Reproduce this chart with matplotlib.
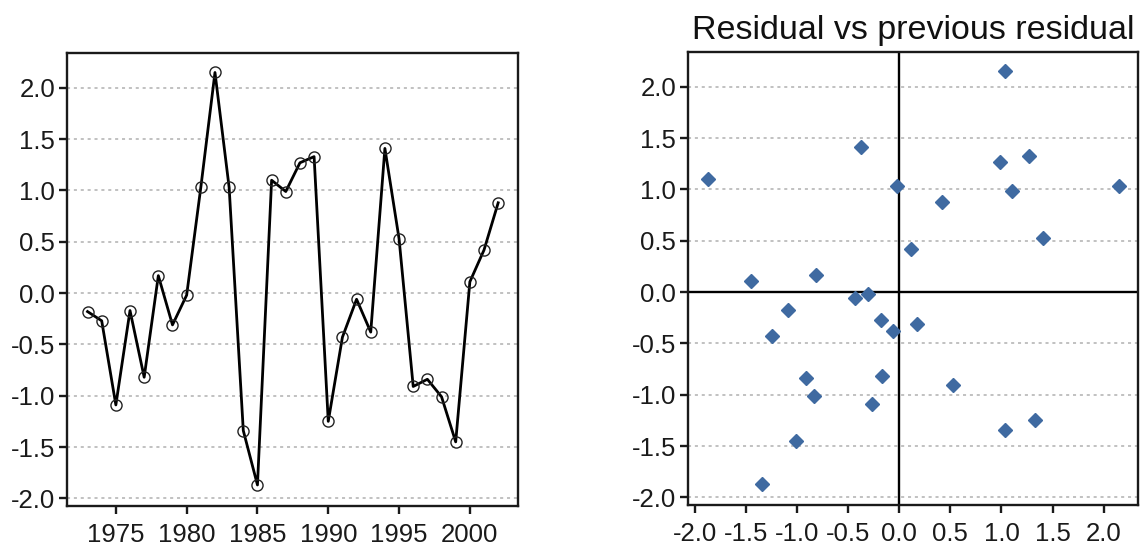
import matplotlib.pyplot as plt
import numpy as np

plt.rcParams['font.family'] = ['Liberation Sans', 'DejaVu Sans']

years = list(range(1973, 2003))
resid = [-0.18, -0.27, -1.09, -0.17, -0.82, 0.17, -0.31, -0.02, 1.03, 2.15,
         1.03, -1.34, -1.87, 1.10, 0.99, 1.27, 1.33, -1.25, -0.43, -0.06,
         -0.38, 1.41, 0.53, -0.91, -0.84, -1.01, -1.45, 0.11, 0.42, 0.88]
title_right = "Residual vs previous residual"

# scatter: residual against the one before it
prev_resid = resid[:-1]
cur_resid = resid[1:]

W, H = 1141, 547
fig = plt.figure(figsize=(W / 100, H / 100), dpi=100)

def box(x0, y0, x1, y1):
    return [x0 / W, 1 - y1 / H, (x1 - x0) / W, (y1 - y0) / H]

ax1 = fig.add_axes(box(67, 53, 518, 506))
ax2 = fig.add_axes(box(688, 52, 1138, 505))

yticks = np.arange(-2.0, 2.01, 0.5)

for ax in (ax1, ax2):
    for s in ax.spines.values():
        s.set_linewidth(1.7)
        s.set_color('#1a1a1a')
    ax.set_yticks(yticks)
    ax.set_yticklabels(['%.1f' % v for v in yticks])
    ax.set_ylim(-2.075, 2.34)
    ax.tick_params(direction='out', length=5.5, width=1.7, labelsize=18.5,
                   colors='#1a1a1a')
    ax.tick_params(axis='y', pad=3)
    ax.tick_params(axis='x', pad=7)
    for v in yticks:
        ax.axhline(v, color='#b0b0b0', lw=1.1, ls=(0, (2, 2.5)), zorder=0)

ax1.plot(years, resid, color='black', lw=2.0, marker='o', ms=8,
         mfc='none', mec='#222222', mew=1.0)
ax1.set_xlim(1971.55, 2003.4)
ax1.set_xticks([1975, 1980, 1985, 1990, 1995, 2000])

ax2.axhline(0, color='black', lw=1.7, zorder=1)
ax2.axvline(0, color='black', lw=1.7, zorder=1)
ax2.plot(prev_resid, cur_resid, ls='none', marker='D', ms=7.5,
         color='#3f6aa1', zorder=3)
ax2.set_xlim(-2.069, 2.337)
xt = np.arange(-2.0, 2.01, 0.5)
ax2.set_xticks(xt)
ax2.set_xticklabels(['%.1f' % v for v in xt])
ax2.set_title(title_right, fontsize=24.5, color='#111111', pad=9)

fig.savefig('out.png', dpi=100)
